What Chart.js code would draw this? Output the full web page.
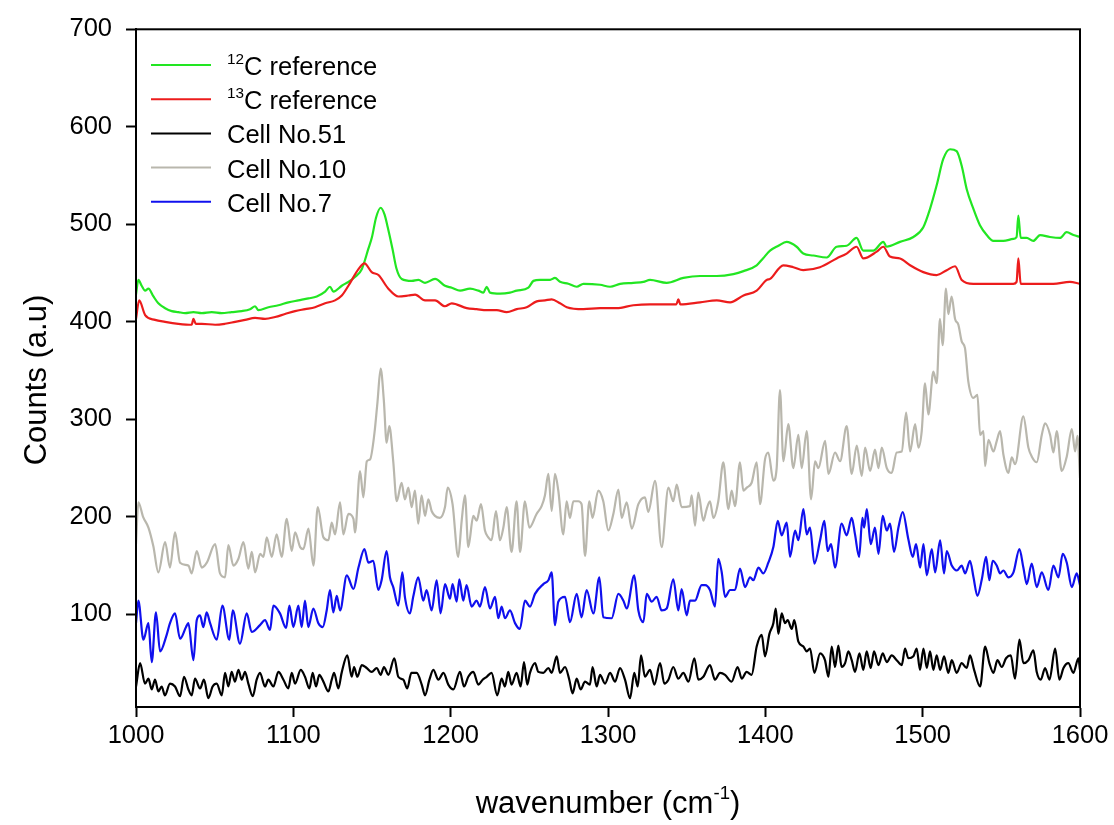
<!DOCTYPE html>
<html>
<head>
<meta charset="utf-8">
<title>Raman spectra</title>
<script src="https://cdn.jsdelivr.net/npm/chart.js@4.4.1/dist/chart.umd.min.js"></script>
<style>
  html, body { margin: 0; padding: 0; background: #fff; }
  #wrap { width: 1114px; height: 825px; }
</style>
</head>
<body>
<div id="wrap"><canvas id="spectra" width="1114" height="825"></canvas></div>
<script>
// ---- spectra: [wavenumber (cm-1), counts] ----
const ref12C = [[1000,428],[1001.5,443],[1003.6,437],[1005.8,432],[1007.9,434],[1011.1,426],[1014.2,419],[1018.5,414],[1022.7,411],[1026.9,410],[1031.2,409],[1036.5,410],[1041.8,409],[1048.1,410],[1054.5,409],[1060.8,410],[1067.2,411],[1072.5,413],[1075.7,416],[1077.8,412],[1084.2,415],[1090.5,417],[1096.9,420],[1103.2,422],[1109.6,424],[1114.9,426],[1120.2,431],[1123.3,436],[1125.5,431],[1130.8,437],[1135,441],[1139.2,446],[1143.5,454],[1147.7,475],[1150,487],[1152.6,507],[1155.5,517],[1158,510],[1160,497],[1163,475],[1165.5,455],[1168.9,444],[1175.3,442],[1179.5,443],[1183.7,440],[1190.1,444],[1196.4,437],[1200.7,435],[1206,432],[1212.3,434],[1217.6,432],[1220.8,430],[1222.9,436],[1225,430],[1231.4,429],[1237.7,430],[1242,432],[1249.4,435],[1252.6,442],[1256.8,443],[1263.2,443],[1266.3,445],[1269.5,441],[1274.8,439],[1280.1,436],[1284.4,439],[1295,438],[1301.3,436],[1307.7,439],[1316.1,440],[1322.5,441],[1326.7,443],[1337.3,440],[1347.9,445],[1358.5,447],[1369.1,447],[1379.7,449],[1386.1,452],[1394.5,458],[1398.5,465],[1403,473],[1408.3,478],[1413.5,482],[1419.9,477],[1424.1,470],[1430.5,468],[1439,466],[1445.3,477],[1451.7,478],[1458,486],[1462.3,473],[1468.6,473],[1475,482],[1477.1,477],[1485.6,482],[1494.1,487],[1500.4,497],[1504.7,516],[1508.9,540],[1513.1,567],[1517.4,577],[1521.6,575],[1524.8,560],[1528,536],[1532.2,516],[1536.4,499],[1540.7,489],[1544.9,483],[1551.3,483],[1557.6,485],[1559.7,487],[1560.8,509],[1562.3,486],[1566.1,486],[1570.3,483],[1574.6,489],[1580.9,487],[1587.3,486],[1591.5,492],[1595.8,489],[1600,487]];

const ref13C = [[1000,403],[1002,422],[1005.8,407],[1012.1,402],[1018.5,400],[1026.9,398],[1035.4,397],[1036.5,403],[1038,398],[1041.8,398],[1050.3,397],[1056.6,398],[1063,400],[1069.3,402],[1075.7,404],[1082,403],[1088.4,405],[1094.7,408],[1101.1,411],[1107.5,413],[1113.8,415],[1120.2,419],[1126.5,422],[1130.8,427],[1135,437],[1141.4,454],[1145.2,460],[1149.8,451],[1154.1,448],[1160.4,434],[1166.8,426],[1173.1,427],[1177.4,428],[1183.7,422],[1190.1,422],[1196.4,416],[1200.7,419],[1210.2,414],[1216.5,413],[1222.9,412],[1229.3,412],[1235.6,410],[1242,413],[1248.3,415],[1254.7,421],[1260,422],[1264.2,423],[1269.5,419],[1273.8,415],[1284.4,413],[1295,414],[1305.5,414],[1316.1,417],[1326.7,418],[1337.3,418],[1343.5,418],[1344.7,423],[1346,418],[1358.5,420],[1369.1,422],[1377.6,420],[1386.1,427],[1394.5,432],[1400.9,443],[1403,444],[1411.4,458],[1417.8,456],[1424.1,453],[1434.7,456],[1445.3,465],[1451.7,470],[1458,477],[1462.3,465],[1470.8,472],[1475,477],[1479.2,467],[1485.6,465],[1492,458],[1500.4,451],[1508.9,448],[1515.3,453],[1520.6,457],[1524.8,443],[1532.2,439],[1544.9,439],[1557.6,439],[1559.7,441],[1560.8,465],[1562.3,439],[1572.5,439],[1583,439],[1593.6,441],[1600,439]];

const cell51 = [[1000,26],[1002.6,50],[1005.7,29],[1007.9,34],[1010,23],[1012.1,33],[1014.2,21],[1016.3,26],[1018.4,17],[1021.6,29],[1024.8,26],[1028,16],[1030.5,36],[1033.3,23],[1035.4,17],[1037.5,34],[1040.7,24],[1043.2,33],[1046,14],[1048.7,26],[1051.3,29],[1054.5,17],[1056.6,40],[1058.7,26],[1060.8,41],[1062.9,31],[1065.1,43],[1067.2,33],[1069.3,41],[1071.4,29],[1074.2,16],[1076.7,33],[1078.8,40],[1082,26],[1084.1,33],[1087.3,26],[1090.5,41],[1093.7,33],[1096.8,24],[1099,40],[1101.1,29],[1104.7,43],[1107.4,36],[1110.2,24],[1112.3,40],[1114.4,26],[1116.5,38],[1119.1,31],[1122.3,21],[1124.4,33],[1125.9,40],[1128.6,24],[1130.7,40],[1134.3,58],[1137.1,36],[1138.6,46],[1140.7,36],[1143.5,48],[1146.6,45],[1149.8,41],[1153,45],[1155.5,38],[1157.6,46],[1160.4,38],[1164.2,55],[1166.7,36],[1169.9,33],[1172.4,24],[1175,40],[1178.4,40],[1181.6,28],[1183.7,17],[1186.5,33],[1189,43],[1192.2,33],[1195.4,40],[1198.5,28],[1201.7,23],[1205.9,41],[1208.5,26],[1211.2,36],[1214.4,41],[1217.6,28],[1220.3,33],[1222.9,36],[1226,40],[1229.6,17],[1232.4,34],[1234.5,26],[1236.6,41],[1238.7,28],[1241.9,40],[1244.5,26],[1246.6,51],[1248.7,28],[1250.4,40],[1253.6,50],[1255.7,41],[1258.9,40],[1262.1,45],[1264.2,40],[1267.4,57],[1269.5,40],[1272.7,46],[1275.4,33],[1277.5,19],[1280.1,34],[1282.6,23],[1285.4,31],[1288.5,28],[1290.2,46],[1292.8,26],[1294.9,38],[1298.1,29],[1301.3,40],[1304.5,31],[1307.6,45],[1310.8,33],[1314,14],[1316.7,40],[1318.9,26],[1321,58],[1323.5,36],[1326.7,43],[1329.5,28],[1333.1,50],[1335.8,29],[1338.4,33],[1341.5,46],[1344.7,34],[1347.9,40],[1351.1,31],[1354.9,55],[1357.4,33],[1360.6,36],[1364.8,48],[1368,33],[1371.2,40],[1374.4,38],[1378.6,31],[1382.4,46],[1385,34],[1388.1,41],[1391.3,38],[1394.5,67],[1397.7,79],[1399.8,57],[1402.6,80],[1405.1,91],[1406.6,106],[1408.3,80],[1410.4,101],[1412.5,91],[1414.2,94],[1416.8,85],[1418.4,94],[1421,72],[1424.2,67],[1426.3,62],[1428.4,65],[1431.2,40],[1434.8,60],[1437.9,53],[1440.1,36],[1442.2,67],[1444.3,46],[1446.4,68],[1448.5,46],[1450.7,50],[1452.8,62],[1454.9,53],[1457,41],[1459.8,60],[1462.3,43],[1464.4,62],[1467,45],[1469.1,62],[1471.9,48],[1474.6,60],[1477.2,51],[1480.3,58],[1483.5,53],[1486.7,48],[1488.8,65],[1490.9,55],[1494.1,57],[1496.2,65],[1498.3,43],[1500.5,65],[1502.6,45],[1504.7,62],[1506.8,43],[1508.9,58],[1511.1,43],[1513.6,57],[1516.3,40],[1518.5,53],[1521.6,40],[1524.8,50],[1528,45],[1530.1,58],[1532.7,43],[1536.5,26],[1539.7,67],[1542.4,50],[1545,40],[1547.5,53],[1550.3,46],[1553,55],[1556,58],[1558.7,34],[1561.5,74],[1564,50],[1567.2,53],[1570.4,63],[1572.5,41],[1575.1,33],[1577.8,45],[1580.6,33],[1584.2,65],[1586.9,33],[1589.5,45],[1592.6,50],[1595.8,40],[1599,55],[1600,43]];

const cell10 = [[1000,172],[1001.5,215],[1004.5,200],[1007.9,189],[1011,170],[1014.2,143],[1018.5,174],[1021.6,148],[1024.8,184],[1028,153],[1033.3,150],[1035.4,142],[1038.6,165],[1041.8,148],[1045,153],[1050.3,172],[1053.4,142],[1056.6,138],[1058.7,171],[1061.9,150],[1065.1,157],[1068.3,174],[1071.4,147],[1073.6,164],[1075.7,143],[1078.9,162],[1081,159],[1083.1,179],[1086.3,159],[1089.4,182],[1092.6,159],[1095.8,198],[1099,165],[1101.1,184],[1104.3,169],[1106.4,167],[1109.6,188],[1112.8,150],[1115.5,210],[1119.1,179],[1122.3,176],[1124.4,194],[1126.5,182],[1129.7,215],[1131.8,182],[1135,203],[1138.2,198],[1139.2,184],[1142.4,247],[1144.5,220],[1146.7,257],[1148.8,259],[1151.5,285],[1153.5,318],[1155.5,352],[1157.5,320],[1159.3,276],[1161,293],[1163.5,257],[1165.7,216],[1168.8,235],[1170.9,218],[1173.1,230],[1175.2,210],[1177.3,227],[1179.4,193],[1181.5,222],[1183.7,201],[1185.8,218],[1187.9,206],[1190,201],[1193.2,199],[1196.4,210],[1198.1,230],[1201.2,213],[1204.8,159],[1207,196],[1209.1,222],[1211.2,169],[1214.4,201],[1216.5,196],[1219.3,213],[1221.8,186],[1223.9,179],[1226,176],[1228.8,206],[1231.3,176],[1233.5,189],[1235.6,210],[1238.7,164],[1241.9,216],[1244.1,164],[1247.2,216],[1250,189],[1254.6,203],[1257.8,211],[1259.9,222],[1262.1,244],[1264.2,206],[1266.3,244],[1268.4,227],[1271.6,182],[1273.7,216],[1275.8,199],[1278,216],[1281.1,216],[1283.2,213],[1285.4,160],[1288.1,216],[1290.2,199],[1293.8,227],[1297,216],[1300.2,186],[1303.4,203],[1306.6,228],[1308.7,199],[1311.9,215],[1315.1,188],[1319.3,213],[1323.5,220],[1325.6,205],[1329.9,237],[1334.1,169],[1338.4,230],[1341.5,216],[1343.7,233],[1346.8,210],[1352.1,211],[1353.2,222],[1355.3,191],[1357.4,225],[1360.6,196],[1362.7,208],[1364.8,216],[1367,199],[1370.1,216],[1373.3,256],[1376.5,208],[1378.6,227],[1380.7,211],[1383.9,256],[1386,227],[1388.2,230],[1391.3,235],[1394.5,256],[1396.6,213],[1399.8,259],[1401.9,266],[1405.1,237],[1407.2,250],[1409.3,330],[1411.5,257],[1414.6,295],[1417.8,250],[1421,284],[1423.1,250],[1426.3,288],[1429.1,218],[1431.6,257],[1433.7,250],[1438,278],[1440.1,244],[1444.3,266],[1447.5,257],[1451.7,293],[1454.9,244],[1458.1,273],[1461.3,242],[1463.4,271],[1466.6,247],[1469.7,269],[1471.9,250],[1474,271],[1477.2,250],[1480.3,245],[1483.5,266],[1486.7,267],[1489.5,307],[1492,267],[1495.2,295],[1497.3,271],[1499.4,288],[1501.5,337],[1503.6,305],[1506.8,349],[1508.9,337],[1511,403],[1512.7,376],[1514.8,434],[1516.3,408],[1518.4,426],[1520.6,403],[1522.7,397],[1524.8,380],[1526.9,373],[1529,339],[1532.2,322],[1534.8,325],[1536.5,284],[1538.6,288],[1539.7,252],[1541.8,279],[1545,267],[1547.1,278],[1549.2,288],[1551.3,264],[1554.5,245],[1556.6,261],[1558.7,254],[1564,303],[1567.2,271],[1569.3,262],[1572.5,256],[1575.7,284],[1577.8,296],[1581,284],[1583.1,266],[1585.2,288],[1588.4,247],[1591.6,262],[1594.8,290],[1596.9,267],[1598.4,283],[1600,240]];

const cell7 = [[1000,91],[1001.5,114],[1004.7,74],[1007.9,91],[1010,51],[1012.7,102],[1015.3,62],[1019.5,79],[1021.6,91],[1024.8,101],[1028,75],[1031.8,87],[1033.3,91],[1036.5,53],[1038.6,94],[1040.7,99],[1042.8,87],[1044.9,102],[1047.1,91],[1051.3,74],[1054.9,109],[1059.3,74],[1061.5,104],[1066.1,70],[1070.4,101],[1073.5,82],[1078.8,89],[1082,94],[1085.2,84],[1087.3,109],[1091.5,101],[1095.4,86],[1097.5,109],[1100,87],[1103.2,109],[1105.3,87],[1107.4,114],[1109.5,87],[1112.7,106],[1115.9,91],[1118.7,87],[1121.2,104],[1123.3,125],[1125.4,102],[1127.6,119],[1129.7,104],[1134,140],[1138.2,126],[1141.4,148],[1145.2,167],[1147.7,153],[1150.8,155],[1154,125],[1156.1,135],[1159.3,165],[1161.4,138],[1163.5,128],[1166.7,109],[1169.3,143],[1170.9,118],[1174.1,101],[1176.2,118],[1179.4,138],[1182.6,114],[1184.7,125],[1187.9,104],[1191.1,135],[1193.6,101],[1196.4,131],[1199.6,116],[1201.2,131],[1203.8,113],[1205.5,136],[1208,114],[1210.1,130],[1213.3,108],[1216.5,114],[1218.6,108],[1221.8,128],[1225,106],[1228.2,118],[1230.3,96],[1232.4,108],[1234.5,96],[1237.7,104],[1240.9,91],[1244,85],[1247.2,114],[1250.4,108],[1253.6,121],[1258.9,131],[1262.1,135],[1264.2,143],[1266.3,89],[1268.4,113],[1272.7,118],[1275.8,92],[1280.1,121],[1283.2,97],[1286.4,125],[1290.7,101],[1294.5,138],[1297,97],[1302.3,96],[1306.6,121],[1309.8,114],[1311.9,106],[1316.7,140],[1319.3,104],[1322.5,92],[1324.6,121],[1327.8,113],[1330.9,118],[1334.1,104],[1337.3,106],[1341.5,136],[1344.7,104],[1346.8,126],[1350,99],[1352.1,114],[1355.3,114],[1359.5,130],[1361.7,130],[1364.8,125],[1368,108],[1370.1,157],[1372.3,143],[1374.4,118],[1377.6,125],[1380.7,125],[1383.9,147],[1387.1,128],[1390.3,138],[1392.4,135],[1395.6,148],[1398.7,142],[1401.9,153],[1405.1,169],[1407.9,196],[1410.4,181],[1413.6,194],[1415.7,159],[1418.9,186],[1421,176],[1424.2,208],[1426.3,182],[1428.4,189],[1431.2,152],[1434.8,176],[1437.5,196],[1439.6,165],[1441.8,172],[1444.3,148],[1448.5,193],[1451.7,181],[1454.9,199],[1457,182],[1459.6,159],[1461.7,199],[1462.8,189],[1464.5,208],[1467,172],[1469.7,189],[1471.9,162],[1474.6,201],[1477.2,186],[1479.3,193],[1481.8,164],[1484.6,189],[1487.3,205],[1490.9,177],[1493.7,159],[1495.8,172],[1498.4,148],[1500.5,172],[1502.6,140],[1505.8,167],[1507.9,143],[1511.1,176],[1513.6,142],[1515.3,165],[1518.5,150],[1521.7,145],[1524.8,150],[1527,142],[1530.1,155],[1532.3,138],[1534.8,119],[1537.6,136],[1540.3,159],[1542.4,135],[1544.5,155],[1547.1,150],[1549.2,142],[1551.3,145],[1554.5,138],[1557.7,143],[1561.5,167],[1564,148],[1566.2,131],[1569.3,152],[1572.5,128],[1575.7,143],[1579.9,125],[1583.1,150],[1586.3,138],[1589,162],[1591.6,153],[1594.8,128],[1597.9,142],[1600,130]];

const xTicks = [1000, 1100, 1200, 1300, 1400, 1500, 1600];
const yTicks = [100, 200, 300, 400, 500, 600, 700];

// legend rows: text pieces, a superscript piece is marked with sup
const legendRows = [
  { color: '#22e622', parts: [{ t: '12', sup: true }, { t: 'C reference' }] },
  { color: '#ec1c1c', parts: [{ t: '13', sup: true }, { t: 'C reference' }] },
  { color: '#000000', parts: [{ t: 'Cell No.51' }] },
  { color: '#b9b7ad', parts: [{ t: 'Cell No.10' }] },
  { color: '#1010ee', parts: [{ t: 'Cell No.7' }] }
];

const FONT = '"Liberation Sans", Arial, sans-serif';

function asPoints(pairs) {
  return pairs.map(p => ({ x: p[0], y: p[1] }));
}

// draws a run of text pieces, superscripts smaller and raised
function drawPieces(ctx, parts, x, y, size) {
  parts.forEach(p => {
    const s = p.sup ? size * 0.6 : size;
    ctx.font = s + 'px ' + FONT;
    ctx.fillText(p.t, x, p.sup ? y - size * 0.45 : y);
    x += ctx.measureText(p.t).width;
  });
  return x;
}

function piecesWidth(ctx, parts, size) {
  let w = 0;
  parts.forEach(p => {
    ctx.font = (p.sup ? size * 0.6 : size) + 'px ' + FONT;
    w += ctx.measureText(p.t).width;
  });
  return w;
}

const frameAndText = {
  id: 'frameAndText',
  afterDraw(chart) {
    const { ctx, chartArea: a } = chart;
    ctx.save();

    // box round the plot
    ctx.strokeStyle = '#000';
    ctx.lineWidth = 2;
    ctx.strokeRect(a.left, a.top, a.right - a.left, a.bottom - a.top);

    ctx.fillStyle = '#000';
    ctx.textBaseline = 'alphabetic';
    ctx.textAlign = 'left';

    // legend
    legendRows.forEach((row, i) => {
      const ly = 65 + i * 34.2;
      ctx.strokeStyle = row.color;
      ctx.lineWidth = 2;
      ctx.beginPath();
      ctx.moveTo(151, ly);
      ctx.lineTo(211, ly);
      ctx.stroke();
      drawPieces(ctx, row.parts, 227, ly + 10, 25.5);
    });

    // x axis title
    const xTitle = [{ t: 'wavenumber (cm' }, { t: '-1', sup: true }, { t: ')' }];
    const tw = piecesWidth(ctx, xTitle, 31);
    drawPieces(ctx, xTitle, (a.left + a.right) / 2 - tw / 2, 813, 31);

    // y axis title
    ctx.translate(46, 380);
    ctx.rotate(-Math.PI / 2);
    ctx.font = '31px ' + FONT;
    ctx.textAlign = 'center';
    ctx.fillText('Counts (a.u)', 0, 0);

    ctx.restore();
  }
};

function series(data, color, order) {
  return {
    data: asPoints(data),
    borderColor: color,
    borderWidth: 2.2,
    pointRadius: 0,
    fill: false,
    cubicInterpolationMode: 'monotone',
    order: order
  };
}

const tickFont = { family: FONT, size: 25.5 };
const plainNumber = v => String(v);

new Chart(document.getElementById('spectra'), {
  type: 'line',
  data: {
    datasets: [
      series(ref12C, legendRows[0].color, 2),
      series(ref13C, legendRows[1].color, 1),
      series(cell51, legendRows[2].color, 3),
      series(cell10, legendRows[3].color, 4),
      series(cell7, legendRows[4].color, 5)
    ]
  },
  options: {
    responsive: false,
    animation: false,
    layout: { padding: { top: 26, right: 34, left: 0, bottom: 0 } },
    plugins: { legend: { display: false }, tooltip: { enabled: false } },
    scales: {
      x: {
        type: 'linear',
        min: 1000,
        max: 1600,
        afterBuildTicks: s => { s.ticks = xTicks.map(v => ({ value: v })); },
        afterFit: s => { s.height = 118; },
        grid: { drawOnChartArea: false, drawTicks: true, tickLength: 10, tickWidth: 2, tickColor: '#000' },
        border: { display: true, color: '#000', width: 2 },
        ticks: { color: '#000', font: tickFont, padding: 4, maxRotation: 0, autoSkip: false, callback: plainNumber }
      },
      y: {
        type: 'linear',
        min: 5,
        max: 700,
        afterBuildTicks: s => { s.ticks = yTicks.map(v => ({ value: v })); },
        afterFit: s => { s.width = 136; },
        grid: { drawOnChartArea: false, drawTicks: true, tickLength: 10, tickWidth: 2, tickColor: '#000' },
        border: { display: true, color: '#000', width: 2 },
        ticks: { color: '#000', font: tickFont, padding: 14, callback: plainNumber }
      }
    }
  },
  plugins: [frameAndText]
});
</script>
</body>
</html>
